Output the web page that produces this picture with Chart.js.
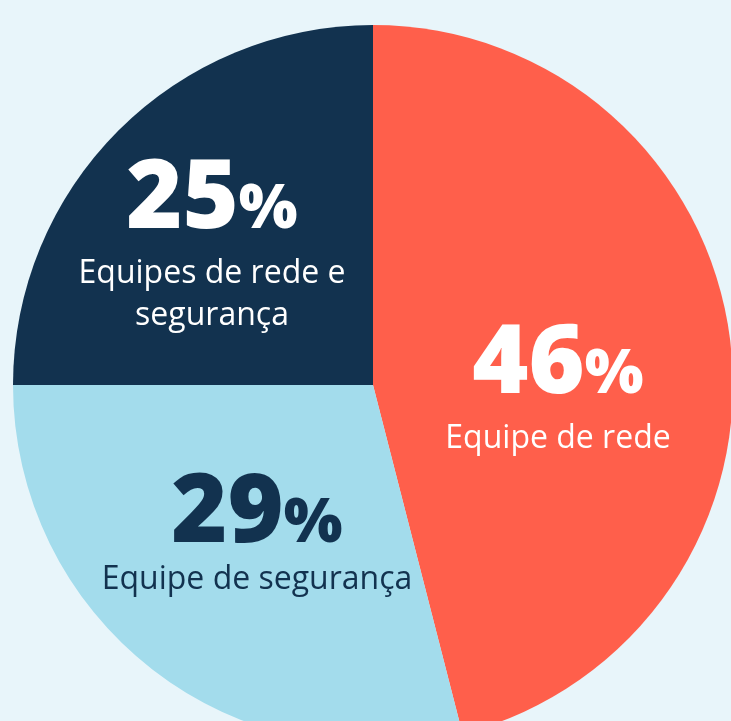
<!DOCTYPE html>
<html>
<head>
<meta charset="utf-8">
<script src="https://cdn.jsdelivr.net/npm/chart.js@4.4.1/dist/chart.umd.min.js"></script>
<style>
  html, body { margin: 0; padding: 0; overflow: hidden; background: #e8f5fa; }
  #wrap { position: absolute; left: 0; top: 0; width: 746px; height: 770px; }
</style>
</head>
<body>
<div id="wrap"><canvas id="pie"></canvas></div>
<script>
// Data
const categories = ["Equipe de rede", "Equipe de segurança", "Equipes de rede e segurança"];
const shares = [46, 29, 25];

// Look
const sliceColors = ["#ff5f4b", "#a3dcec", "#12324f"];
const textColors = ["#ffffff", "#12324f", "#ffffff"];
const labelLines = [["Equipe de rede"], ["Equipe de segurança"], ["Equipes de rede e", "segurança"]];
// label anchor offsets from pie centre (px at radius 360): number baseline, then line baselines
const labelSpots = [
  { dx: 185, dy: 8, lines: [55] },
  { dx: -116, dy: 157, lines: [47] },
  { dx: -161, dy: -157, lines: [55, 97] }
];

const labelPlugin = {
  id: "sliceLabels",
  afterDatasetsDraw(chart) {
    const ctx = chart.ctx;
    const arcs = chart.getDatasetMeta(0).data;
    arcs.forEach((arc, i) => {
      const k = arc.outerRadius / 360;
      const x = arc.x + labelSpots[i].dx * k;
      const y = arc.y + labelSpots[i].dy * k;
      ctx.save();
      ctx.fillStyle = textColors[i];
      ctx.textBaseline = "alphabetic";

      // big number with smaller percent sign
      const num = String(shares[i]);
      ctx.font = "800 96px 'Open Sans'";
      const wNum = ctx.measureText(num).width;
      ctx.font = "800 62px 'Open Sans'";
      const wPct = ctx.measureText("%").width;
      let left = x - (wNum + wPct) / 2;
      ctx.textAlign = "left";
      ctx.font = "800 96px 'Open Sans'";
      ctx.fillText(num, left, y);
      ctx.font = "800 62px 'Open Sans'";
      ctx.fillText("%", left + wNum, y);

      // caption
      ctx.font = "400 32px 'Open Sans'";
      ctx.textAlign = "center";
      labelLines[i].forEach((line, j) => {
        ctx.fillText(line, x, y + labelSpots[i].lines[j] * k);
      });
      ctx.restore();
    });
  }
};

Promise.all([
  document.fonts.load("800 96px 'Open Sans'"),
  document.fonts.load("400 32px 'Open Sans'")
]).catch(() => {}).then(() => {
  new Chart(document.getElementById("pie"), {
    type: "pie",
    data: {
      labels: categories,
      datasets: [{
        data: shares,
        backgroundColor: sliceColors,
        borderWidth: 0
      }]
    },
    options: {
      responsive: true,
      maintainAspectRatio: false,
      animation: false,
      layout: { padding: { top: 25, bottom: 25, left: 13, right: 13 } },
      plugins: { legend: { display: false }, tooltip: { enabled: false } }
    },
    plugins: [labelPlugin]
  });
});
</script>
</body>
</html>
